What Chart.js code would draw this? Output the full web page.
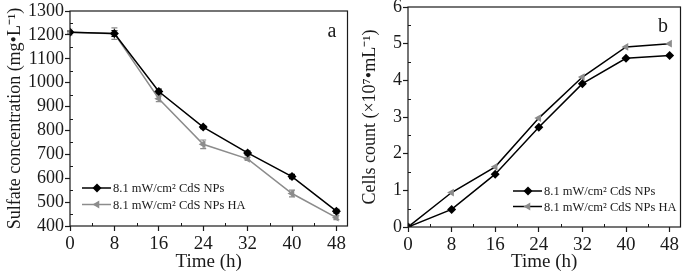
<!DOCTYPE html>
<html>
<head>
<meta charset="utf-8">
<script src="https://cdn.jsdelivr.net/npm/chart.js@4.4.1/dist/chart.umd.min.js"></script>
<style>
  html, body { margin: 0; padding: 0; background: #fff; }
  #wrap { position: relative; width: 685px; height: 275px; }
  canvas { position: absolute; top: 0; }
</style>
</head>
<body>
<div id="wrap">
  <canvas id="chartA" width="352" height="275" style="left:0"></canvas>
  <canvas id="chartB" width="333" height="275" style="left:352px"></canvas>
</div>
<script>
// time points (h)
const hours = [0, 8, 16, 24, 32, 40, 48];

// panel a: sulfate concentration (mg/L)
const sulfateCdS = [1211, 1206, 963, 814, 706, 607, 462];
const sulfateCdSHA = [1211, 1205, 933, 742, 681, 536, 435];
const sulfateErrCdS = [5, 12, 10, 6, 8, 9, 8];
const sulfateErrCdSHA = [5, 24, 12, 18, 6, 14, 8];

// panel b: cells count (x10^7 /mL)
const cellsCdS = [0, 0.48, 1.44, 2.72, 3.91, 4.60, 4.68];
const cellsCdSHA = [0, 0.94, 1.64, 2.97, 4.09, 4.91, 5.00];

// tick labels
const xTicks = [0, 8, 16, 24, 32, 40, 48];
const sulfateTicks = [400, 500, 600, 700, 800, 900, 1000, 1100, 1200, 1300];
const cellTicks = [0, 1, 2, 3, 4, 5, 6];

const seriesNames = ['8.1 mW/cm\u00B2 CdS NPs', '8.1 mW/cm\u00B2 CdS NPs HA'];

const SERIF = '"Liberation Serif", "Times New Roman", serif';
const INK = '#1a1a1a';
const GREY = '#8c8c8c';

const toPoints = (ys) => hours.map((h, i) => ({ x: h, y: ys[i] }));

// frame, inner minor ticks, error bars, legend and panel letter
const panelDecor = {
  id: 'panelDecor',
  beforeDatasetsDraw(chart) {
    const ctx = chart.ctx;
    const xs = chart.scales.x, ys = chart.scales.y;
    chart.data.datasets.forEach((ds) => {
      if (!ds.errors) return;
      ctx.save();
      ctx.strokeStyle = ds.borderColor;
      ctx.lineWidth = 1.2;
      ds.data.forEach((p, i) => {
        const e = ds.errors[i];
        const px = xs.getPixelForValue(p.x);
        const top = ys.getPixelForValue(p.y + e);
        const bot = ys.getPixelForValue(p.y - e);
        ctx.beginPath();
        ctx.moveTo(px, top); ctx.lineTo(px, bot);
        ctx.moveTo(px - 3, top); ctx.lineTo(px + 3, top);
        ctx.moveTo(px - 3, bot); ctx.lineTo(px + 3, bot);
        ctx.stroke();
      });
      ctx.restore();
    });
  },
  afterDraw(chart, args, opts) {
    const ctx = chart.ctx;
    const a = chart.chartArea;
    const xs = chart.scales.x, ys = chart.scales.y;
    ctx.save();
    ctx.strokeStyle = INK;
    ctx.lineWidth = 1.2;
    ctx.strokeRect(a.left, a.top, a.right - a.left, a.bottom - a.top);

    // minor ticks pointing inward
    ctx.lineWidth = 1;
    ctx.beginPath();
    for (let i = 0; i < xTicks.length - 1; i++) {
      const px = Math.round(xs.getPixelForValue((xTicks[i] + xTicks[i + 1]) / 2)) + 0.5;
      ctx.moveTo(px, a.bottom); ctx.lineTo(px, a.bottom - 3);
    }
    const yt = opts.yTicks;
    for (let i = 0; i < yt.length - 1; i++) {
      const py = Math.round(ys.getPixelForValue((yt[i] + yt[i + 1]) / 2)) + 0.5;
      ctx.moveTo(a.left, py); ctx.lineTo(a.left + 3, py);
    }
    ctx.stroke();

    // panel letter
    ctx.fillStyle = INK;
    ctx.font = '20px ' + SERIF;
    ctx.textAlign = 'center';
    ctx.textBaseline = 'middle';
    ctx.fillText(opts.letter, opts.letterX, opts.letterY);

    // legend
    ctx.font = '12.5px ' + SERIF;
    ctx.textAlign = 'left';
    chart.data.datasets.forEach((ds, i) => {
      const y = opts.legendY + i * opts.legendGap;
      const x0 = opts.legendX;
      ctx.strokeStyle = ds.borderColor;
      ctx.lineWidth = 1.5;
      ctx.beginPath();
      ctx.moveTo(x0, y); ctx.lineTo(x0 + 29, y);
      ctx.stroke();
      ctx.fillStyle = ds.pointBackgroundColor;
      Chart.helpers.drawPoint(ctx, {
        pointStyle: ds.pointStyle, rotation: ds.pointRotation || 0,
        radius: ds.pointRadius, borderWidth: 0
      }, x0 + 15, y);
      ctx.fillStyle = INK;
      ctx.fillText(ds.label, x0 + 31, y + 1);
    });
    ctx.restore();
  }
};

function makeChart(id, cfg) {
  return new Chart(document.getElementById(id), {
    type: 'line',
    data: { datasets: cfg.datasets },
    options: {
      responsive: false,
      animation: false,
      layout: { padding: cfg.padding },
      plugins: {
        legend: { display: false },
        tooltip: { enabled: false },
        panelDecor: cfg.decor
      },
      scales: {
        x: {
          type: 'linear',
          min: 0, max: 50,
          afterBuildTicks: (s) => { s.ticks = xTicks.map(v => ({ value: v })); },
          afterFit: (s) => { s.height = cfg.xHeight; s.paddingLeft = 0; s.paddingRight = 0; },
          border: { display: false },
          grid: { drawOnChartArea: false, tickLength: 5, tickColor: INK, tickWidth: 1.2 },
          ticks: { color: INK, font: { family: SERIF, size: 19 }, padding: 2, maxRotation: 0,
                   autoSkip: false, callback: (v) => String(v) },
          title: {
            display: true, text: 'Time (h)', color: INK,
            font: { family: SERIF, size: 19 }, padding: { top: 0, bottom: 2 }
          }
        },
        y: {
          min: cfg.yMin, max: cfg.yMax,
          afterBuildTicks: (s) => { s.ticks = cfg.yTicks.map(v => ({ value: v })); },
          afterFit: (s) => { s.width = cfg.yWidth; s.paddingTop = 0; s.paddingBottom = 0; },
          border: { display: false },
          grid: { drawOnChartArea: false, tickLength: 5, tickColor: INK, tickWidth: 1.2 },
          ticks: { color: INK, font: { family: SERIF, size: 18 }, padding: 1,
                   autoSkip: false, callback: (v) => String(v) },
          title: {
            display: true, text: cfg.yTitle, color: INK,
            font: { family: SERIF, size: 18 }, padding: { top: cfg.yTitlePad, bottom: 0 }
          }
        }
      }
    },
    plugins: [panelDecor]
  });
}

const blackSeries = (label, ys, extra) => Object.assign({
  label, data: toPoints(ys),
  borderColor: '#000', backgroundColor: '#000',
  pointBackgroundColor: '#000', pointBorderColor: '#000',
  pointStyle: 'rectRot', pointRadius: 4.5, pointBorderWidth: 0,
  borderWidth: 1.5, tension: 0
}, extra);

const greySeries = (label, ys, lineColor, extra) => Object.assign({
  label, data: toPoints(ys),
  borderColor: lineColor, backgroundColor: GREY,
  pointBackgroundColor: GREY, pointBorderColor: GREY,
  pointStyle: 'triangle', pointRotation: -90, pointRadius: 4.5, pointBorderWidth: 0,
  borderWidth: 1.5, tension: 0
}, extra);

makeChart('chartA', {
  datasets: [
    blackSeries(seriesNames[0], sulfateCdS, { errors: sulfateErrCdS }),
    greySeries(seriesNames[1], sulfateCdSHA, GREY, { errors: sulfateErrCdSHA })
  ],
  padding: { top: 11, right: 1, left: 0, bottom: 0 },
  xHeight: 49, yWidth: 70, yTitlePad: 4,
  yMin: 400, yMax: 1300, yTicks: sulfateTicks,
  yTitle: 'Sulfate concentration (mg\u2022L\u207B\u00B9)',
  decor: { letter: 'a', letterX: 332, letterY: 32, yTicks: sulfateTicks,
           legendX: 82, legendY: 188, legendGap: 16.5 }
});

makeChart('chartB', {
  datasets: [
    blackSeries(seriesNames[0], cellsCdS),
    greySeries(seriesNames[1], cellsCdSHA, '#000')
  ],
  padding: { top: 7, right: 2, left: 0, bottom: 0 },
  xHeight: 48, yWidth: 56, yTitlePad: 7,
  yMin: 0, yMax: 6, yTicks: cellTicks,
  yTitle: 'Cells count (\u00D710\u2077\u2022mL\u207B\u00B9)',
  decor: { letter: 'b', letterX: 311, letterY: 27, yTicks: cellTicks,
           legendX: 161, legendY: 191, legendGap: 15.5 }
});
</script>
</body>
</html>
